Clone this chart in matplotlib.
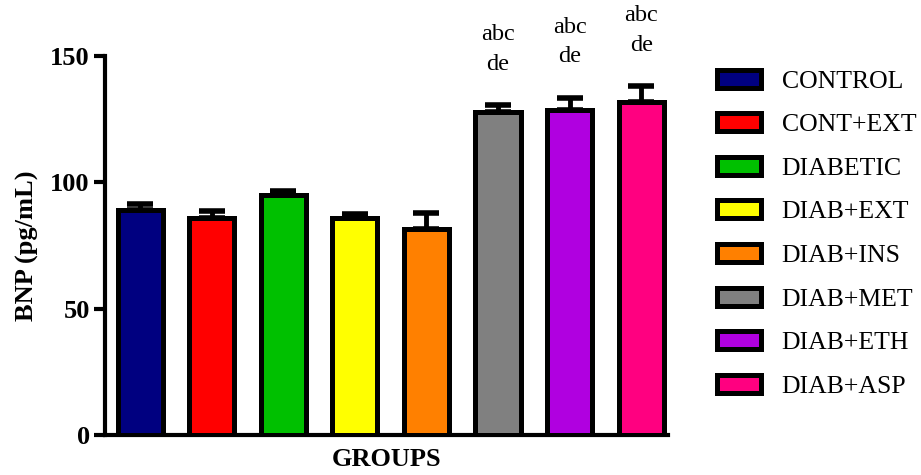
import numpy as np
import matplotlib.pyplot as plt

plt.rcParams['font.family'] = ['Liberation Serif', 'DejaVu Serif']

groups = ["CONTROL", "CONT+EXT", "DIABETIC", "DIAB+EXT",
          "DIAB+INS", "DIAB+MET", "DIAB+ETH", "DIAB+ASP"]
bnp = [89, 86, 95, 86, 81.5, 128, 128.5, 132]
sem = [2.5, 2.5, 1.5, 1.5, 6.5, 2.5, 5, 6]
colors = ["#000080", "#FF0000", "#00C000", "#FFFF00",
          "#FF8000", "#808080", "#B000E0", "#FF0080"]
letters = ["", "", "", "", "", "abc\nde", "abc\nde", "abc\nde"]

fig = plt.figure(figsize=(9.21, 4.75), dpi=100)
ax = fig.add_axes([0.114, 0.084, 0.611, 0.798])

x = np.arange(len(groups))
bars = ax.bar(x, bnp, width=0.63, color=colors, edgecolor="black",
              linewidth=3.6, label=groups, zorder=3)
ax.errorbar(x, bnp, yerr=[np.zeros(len(sem)), sem], fmt="none",
            ecolor="black", elinewidth=3.5, capsize=9.5, capthick=4, zorder=2)

for xi, v, e, t in zip(x, bnp, sem, letters):
    if t:
        ax.text(xi, v + e + 12, t, ha="center", va="bottom", fontsize=17.5,
                linespacing=1.55, clip_on=False)

ax.set_xlim(-0.49, 7.37)
ax.set_ylim(0, 150)
ax.set_yticks([0, 50, 100, 150])
ax.set_xticks([])
for s in ["top", "right"]:
    ax.spines[s].set_visible(False)
for s in ["left", "bottom"]:
    ax.spines[s].set_linewidth(3)
ax.tick_params(axis="y", length=8, width=3, labelsize=19, pad=3)
for lab in ax.get_yticklabels():
    lab.set_fontweight("bold")

ax.set_ylabel("BNP (pg/mL)", fontsize=19, fontweight="bold", labelpad=8)
ax.set_xlabel("GROUPS", fontsize=19, fontweight="bold", labelpad=9)

leg = fig.legend(handles=bars, labels=groups, loc="upper left",
                 bbox_to_anchor=(0.779, 0.853), frameon=False, fontsize=18.5,
                 handlelength=1.7, handleheight=0.7, handletextpad=0.8,
                 labelspacing=0.8, borderpad=0, borderaxespad=0)

fig.savefig("out.png", dpi=100)
